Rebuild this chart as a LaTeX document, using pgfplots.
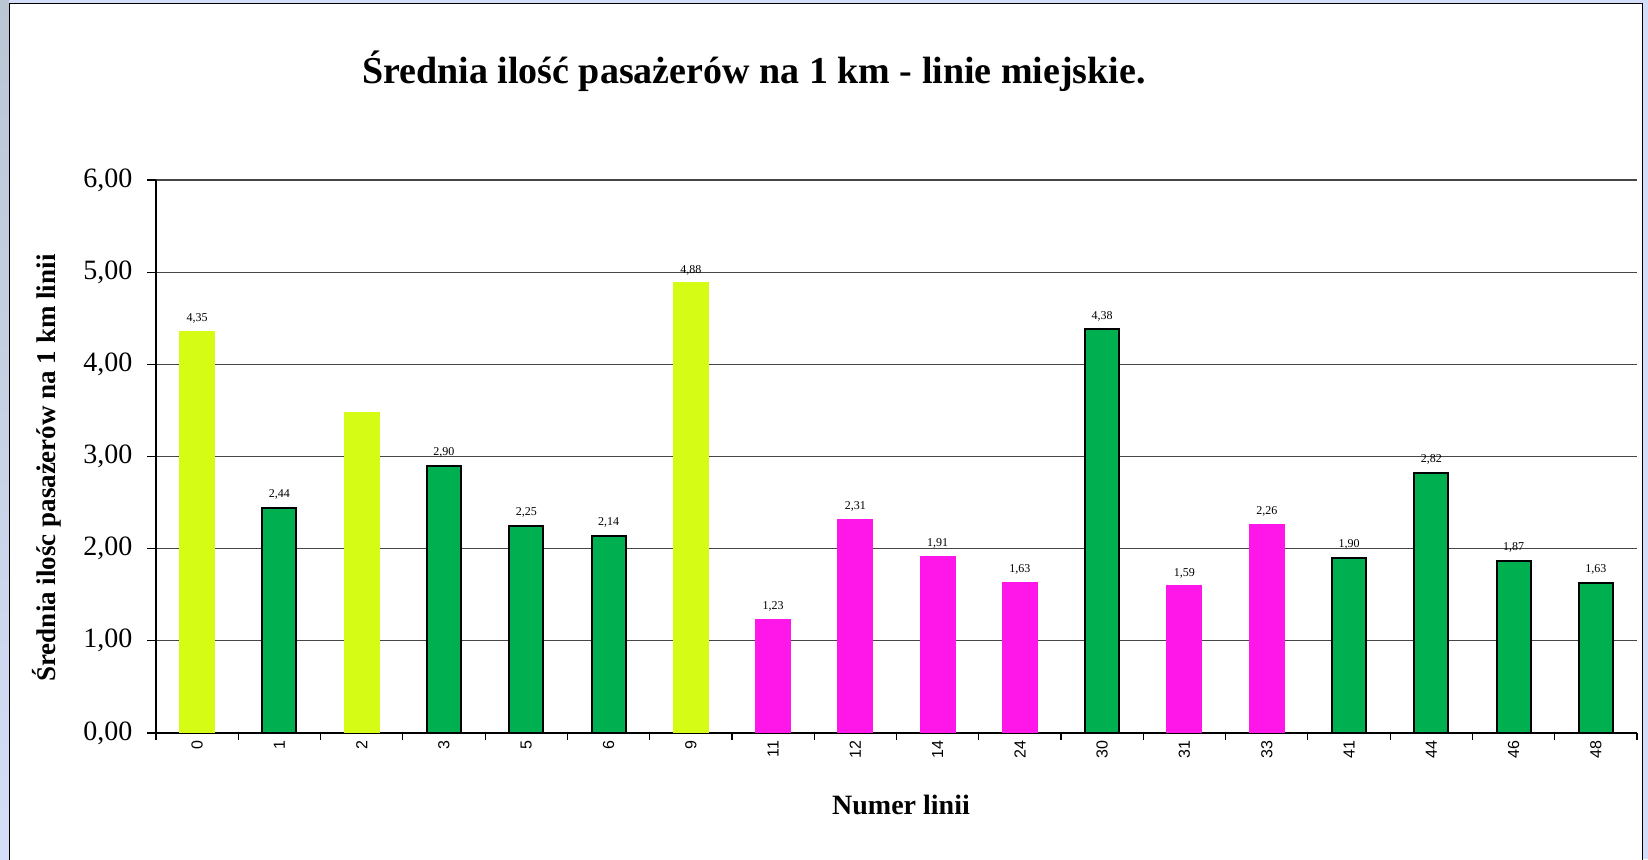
\documentclass[border=0pt]{standalone}
\usepackage{fontspec}
\setmainfont{Liberation Serif}
\newfontfamily\arial{Liberation Sans}
\usepackage{pgfplots}
\pgfplotsset{compat=1.18}
\definecolor{ylw}{RGB}{212,252,20}
\definecolor{grn}{RGB}{0,176,80}
\definecolor{mag}{RGB}{255,22,232}
\definecolor{bgblue}{RGB}{212,222,248}
\definecolor{bggray}{RGB}{186,198,212}
\definecolor{gridc}{RGB}{70,70,70}
\begin{document}
\begin{tikzpicture}
\useasboundingbox (0,0) rectangle (1648pt,859pt);
\clip (0,0) rectangle (1648pt,859pt);
\fill[bgblue] (0,0) rectangle (1648pt,859pt);
\shade[top color=bggray,bottom color=bgblue] (0,0) rectangle (9pt,859pt);
\draw[fill=white,line width=1.5pt] (9.5pt,-10pt) rectangle (1642.5pt,855.5pt);
\begin{axis}[
  scale only axis, width=1481pt, height=553pt,
  at={(156pt,126pt)}, anchor=south west,
  xmin=-0.5, xmax=17.5, ymin=0, ymax=6,
  axis x line*=bottom, axis y line*=left,
  axis line style={-, black, line width=1.2pt},
  xtick={0,...,17},
  xticklabels={0,1,2,3,5,6,9,11,12,14,24,30,31,33,41,44,46,48},
  minor xtick={-0.5,0.5,...,17.5},
  ytick={0,1,...,6},
  tick align=outside,
  major tick length=9pt, minor tick length=7pt,
  major x tick style={draw=none},
  minor x tick style={black, line width=1.2pt},
  major y tick style={black, line width=1.2pt},
  ymajorgrids, major grid style={gridc, line width=1.2pt},
  /pgf/number format/assume math mode=true,
  /pgf/number format/.cd, fixed, fixed zerofill, precision=2, use comma, /pgfplots/.cd,
  yticklabel shift=11pt,
  xticklabel shift=-5pt,
  yticklabel style={font=\fontsize{28}{28}\selectfont},
  xticklabel style={rotate=90, anchor=east, font=\arial\fontsize{16}{16}\selectfont},
  every node near coord/.append style={font=\fontsize{12}{12}\selectfont, black, yshift=4pt},
]
\addplot[ybar, bar width=34pt, bar shift=0pt, fill=ylw, draw=ylw, line width=2pt,
  nodes near coords] coordinates {(0,4.35) (6,4.88)};
\addplot[ybar, bar width=34pt, bar shift=0pt, fill=ylw, draw=ylw, line width=2pt]
  coordinates {(2,3.47)};
\addplot[ybar, bar width=34pt, bar shift=0pt, fill=grn, draw=black, line width=2pt,
  nodes near coords] coordinates {(1,2.44) (3,2.90) (4,2.25) (5,2.14) (11,4.38) (14,1.90) (15,2.82) (16,1.87) (17,1.63)};
\addplot[ybar, bar width=34pt, bar shift=0pt, fill=mag, draw=mag, line width=2pt,
  nodes near coords] coordinates {(7,1.23) (8,2.31) (9,1.91) (10,1.63) (12,1.59) (13,2.26)};
\end{axis}
\node[font=\bfseries\fontsize{38}{38}\selectfont] at (754pt,788pt) {Średnia ilość pasażerów na 1 km - linie miejskie.};
\node[font=\bfseries\fontsize{27}{27}\selectfont, rotate=90] at (47pt,391pt) {Średnia ilośc pasażerów na 1 km linii};
\node[font=\bfseries\fontsize{28}{28}\selectfont] at (901pt,54pt) {Numer linii};
\end{tikzpicture}
\end{document}
